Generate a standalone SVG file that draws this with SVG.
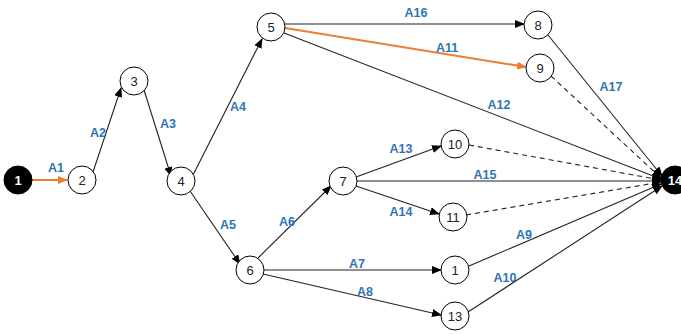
<svg xmlns="http://www.w3.org/2000/svg" width="681" height="334" viewBox="0 0 681 334">
<defs>
<marker id="ah" markerWidth="10" markerHeight="8" refX="9" refY="4" orient="auto" markerUnits="userSpaceOnUse"><path d="M0,0 L10,4 L0,8 Z" fill="#000"/></marker>
<marker id="ao" markerWidth="10" markerHeight="8" refX="9" refY="4" orient="auto" markerUnits="userSpaceOnUse"><path d="M0,0 L10,4 L0,8 Z" fill="#ED7D31"/></marker>
<style>
.n circle{fill:#fff;stroke:#000;stroke-width:1}
.n.b circle{fill:#000}
.n text{font-family:"Liberation Sans",Arial,sans-serif;font-size:13px;fill:#222;text-anchor:middle;dominant-baseline:central}
.n.b text{fill:#fff;font-weight:bold}
.e{stroke:#222;stroke-width:1.1;fill:none;marker-end:url(#ah)}
.o{stroke:#ED7D31;stroke-width:2;fill:none;marker-end:url(#ao)}
.d{stroke-dasharray:5,4}
.l{font-family:"Liberation Sans",Arial,sans-serif;font-size:12.5px;font-weight:bold;fill:#2E75B6;text-anchor:middle}
</style>
</defs>
<g id="connectors">
<line class="o" x1="32" y1="180" x2="67" y2="180"/>
<line class="e" x1="93" y1="172" x2="121" y2="88"/>
<line class="e" x1="144" y1="90" x2="171" y2="176"/>
<line class="e" x1="193" y1="175" x2="262" y2="39"/>
<line class="e" x1="190" y1="191" x2="240" y2="264"/>
<line class="e" x1="258" y1="258" x2="331" y2="186"/>
<line class="e" x1="264" y1="270" x2="441" y2="270"/>
<line class="e" x1="263" y1="274" x2="441" y2="315"/>
<line class="e" x1="356" y1="177" x2="441" y2="146"/>
<line class="e" x1="356" y1="186" x2="439" y2="214"/>
<line class="e" x1="357" y1="181" x2="661" y2="181"/>
<line class="e" x1="285" y1="24" x2="524" y2="24"/>
<line class="o" x1="285" y1="28" x2="526" y2="67"/>
<line class="e" x1="284" y1="33" x2="661" y2="179"/>
<line class="e" x1="548" y1="35" x2="662" y2="176"/>
<line class="e d" x1="551" y1="76" x2="661" y2="178"/>
<line class="e d" x1="469" y1="145" x2="661" y2="180"/>
<line class="e d" x1="466" y1="215" x2="661" y2="182"/>
<line class="e" x1="469" y1="266" x2="661" y2="184"/>
<line class="e" x1="468" y1="312" x2="662" y2="186"/>
</g>
<g id="labels">
<text class="l" x="56" y="172">A1</text>
<text class="l" x="98" y="137">A2</text>
<text class="l" x="168" y="128">A3</text>
<text class="l" x="238" y="111">A4</text>
<text class="l" x="228" y="229">A5</text>
<text class="l" x="287" y="226">A6</text>
<text class="l" x="357" y="268">A7</text>
<text class="l" x="365" y="296">A8</text>
<text class="l" x="524" y="239">A9</text>
<text class="l" x="505" y="282">A10</text>
<text class="l" x="447" y="52">A11</text>
<text class="l" x="499" y="109">A12</text>
<text class="l" x="401" y="153">A13</text>
<text class="l" x="401" y="216">A14</text>
<text class="l" x="485" y="179">A15</text>
<text class="l" x="416" y="17">A16</text>
<text class="l" x="611" y="91">A17</text>
</g>
<g id="node1" class="n b"><circle cx="18" cy="180" r="14"/><text x="18" y="180">1</text></g>
<g id="node2" class="n"><circle cx="82" cy="180" r="14"/><text x="82" y="180">2</text></g>
<g id="node3" class="n"><circle cx="134" cy="81" r="14"/><text x="134" y="81">3</text></g>
<g id="node4" class="n"><circle cx="181" cy="181" r="14"/><text x="181" y="181">4</text></g>
<g id="node5" class="n"><circle cx="271" cy="27" r="14"/><text x="271" y="27">5</text></g>
<g id="node6" class="n"><circle cx="250" cy="270" r="14"/><text x="250" y="270">6</text></g>
<g id="node7" class="n"><circle cx="343" cy="181" r="14"/><text x="343" y="181">7</text></g>
<g id="node8" class="n"><circle cx="538" cy="25" r="14"/><text x="538" y="25">8</text></g>
<g id="node9" class="n"><circle cx="540" cy="68" r="14"/><text x="540" y="68">9</text></g>
<g id="node10" class="n"><circle cx="455" cy="144" r="14"/><text x="455" y="144">10</text></g>
<g id="node11" class="n"><circle cx="453" cy="217" r="14"/><text x="453" y="217">11</text></g>
<g id="node1b" class="n"><circle cx="455" cy="270" r="14"/><text x="455" y="270">1</text></g>
<g id="node13" class="n"><circle cx="455" cy="316" r="14"/><text x="455" y="316">13</text></g>
<g id="node14" class="n b"><circle cx="675" cy="180" r="14"/><text x="675" y="180">14</text></g>
</svg>
